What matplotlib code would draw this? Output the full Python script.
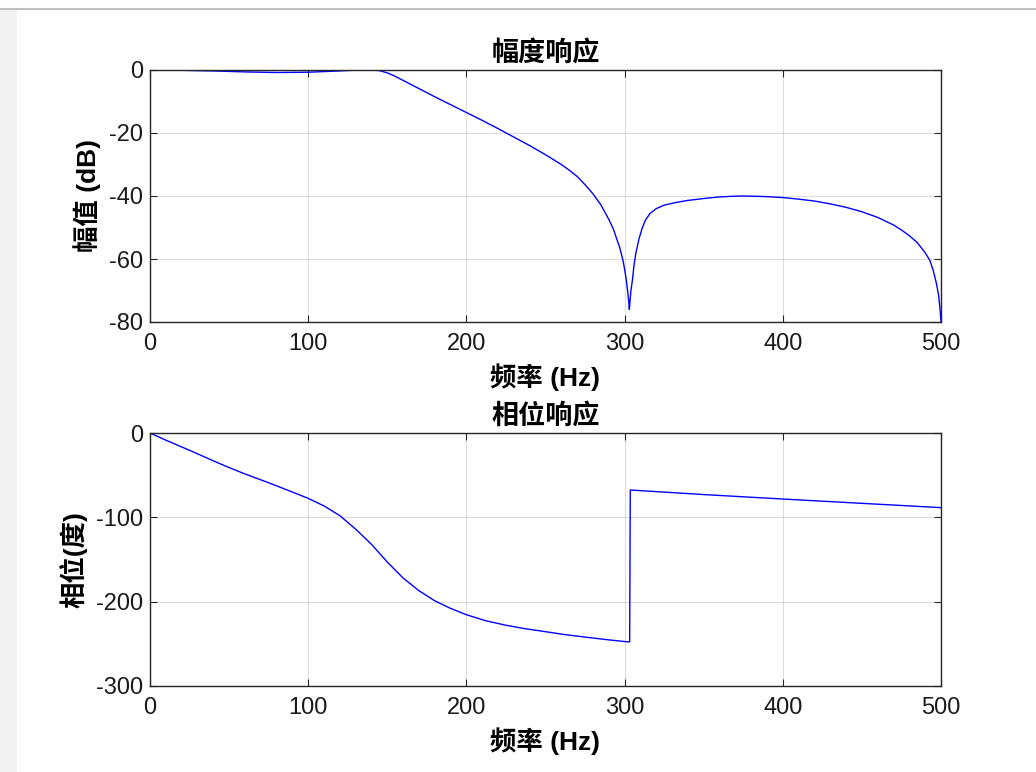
import matplotlib
matplotlib.use("Agg")
import matplotlib.pyplot as plt
from matplotlib.patches import Rectangle
from matplotlib.lines import Line2D

plt.rcParams['font.family'] = ['Liberation Sans', 'Noto Sans CJK SC', 'DejaVu Sans']
plt.rcParams['axes.unicode_minus'] = False

# Magnitude response (dB)
mag_freq = [0, 20, 40, 60, 80, 100, 115, 130, 140, 145, 150, 155, 160, 165, 170, 175, 180,
            190, 200, 210, 220, 230, 240, 250, 260, 265, 270, 275, 280, 285, 290, 293,
            295, 297, 299, 300, 301, 302, 302.6, 303, 303.4, 304, 305, 306, 307, 309,
            311, 313, 316, 320, 325, 333, 340, 350, 360, 370, 375, 380, 390, 400, 410,
            420, 430, 440, 450, 460, 470, 475, 480, 485, 490, 493, 495, 497, 498.5,
            499.5, 500]
mag_db = [0.0, -0.1, -0.3, -0.6, -0.8, -0.7, -0.4, -0.05, 0.0, -0.2, -0.9, -2.0, -3.3,
          -4.6, -5.9, -7.2, -8.5, -11.0, -13.5, -16.0, -18.6, -21.3, -24.0, -26.9, -30.0,
          -31.8, -33.8, -36.4, -39.3, -42.8, -47.4, -50.6, -53.6, -56.5, -60.5, -63.2,
          -66.5, -70.5, -73.5, -76.0, -73.5, -70.0, -66.5, -61.8, -58.5, -53.8, -50.4,
          -47.8, -45.6, -44.0, -42.9, -42.0, -41.4, -40.8, -40.3, -40.05, -40.0, -40.05,
          -40.2, -40.5, -41.0, -41.6, -42.5, -43.6, -45.0, -46.8, -49.2, -50.8, -52.6,
          -54.8, -58.0, -60.5, -63.5, -67.5, -71.5, -76.5, -80.0]

# Phase response (degrees)
ph_freq = [0, 10, 25, 40, 50, 60, 75, 90, 100, 110, 120, 130, 140, 150, 160, 170, 180,
           190, 200, 212, 225, 237, 250, 262, 275, 290, 300, 303.2, 303.6, 350, 400,
           450, 500]
ph_deg = [0, -8.5, -20.5, -33, -41, -48.5, -59, -70, -77.5, -86.5, -98, -114, -132, -153,
          -172, -187, -199, -208, -215.5, -222.5, -228, -232, -235.6, -239, -242, -245.3,
          -247.3, -247.8, -67.6, -73, -78.3, -83.4, -88.5]

fig = plt.figure(figsize=(10.36, 7.72), dpi=100)
fig.patch.set_facecolor('white')
# screenshot frame
fig.add_artist(Rectangle((0, 0), 17 / 1036, 1 - 9 / 772, transform=fig.transFigure,
                         facecolor='#f2f2f2', edgecolor='none', zorder=-5))
fig.add_artist(Line2D([0, 1], [1 - 8.5 / 772, 1 - 8.5 / 772], transform=fig.transFigure,
                      color='#c0c0c0', lw=1.5, zorder=-4))

ax_col = '#262626'
lab_size = 19
tick_size = 17
title_size = 19.5


def style(ax):
    ax.grid(True, color='#262626', alpha=0.15, lw=0.8)
    ax.set_axisbelow(True)
    for s in ax.spines.values():
        s.set_color(ax_col)
        s.set_linewidth(1.0)
    ax.tick_params(direction='in', top=True, right=True, length=5, width=0.8,
                   colors=ax_col, labelsize=tick_size, labelcolor='#1a1a1a')
    ax.tick_params(axis='x', pad=8)
    ax.tick_params(axis='y', pad=5)


ax1 = fig.add_axes([150 / 1036, 1 - 322 / 772, 791 / 1036, 252 / 772])
ax1.plot(mag_freq, mag_db, color='#0000ff', lw=1.0)
ax1.set_xlim(0, 500)
ax1.set_ylim(-80, 0)
ax1.set_xticks([0, 100, 200, 300, 400, 500])
ax1.set_yticks([-80, -60, -40, -20, 0])
style(ax1)
ax1.set_title('幅度响应', fontsize=title_size, fontweight='bold', pad=7)
ax1.set_xlabel('频率 (Hz)', fontsize=lab_size, fontweight='bold', labelpad=6)
ax1.set_ylabel('幅值 (dB)', fontsize=lab_size, fontweight='bold', labelpad=6)

ax2 = fig.add_axes([150 / 1036, 1 - 686 / 772, 791 / 1036, 253 / 772])
ax2.plot(ph_freq, ph_deg, color='#0000ff', lw=1.0)
ax2.set_xlim(0, 500)
ax2.set_ylim(-300, 0)
ax2.set_xticks([0, 100, 200, 300, 400, 500])
ax2.set_yticks([-300, -200, -100, 0])
style(ax2)
ax2.set_title('相位响应', fontsize=title_size, fontweight='bold', pad=7)
ax2.set_xlabel('频率 (Hz)', fontsize=lab_size, fontweight='bold', labelpad=6)
ax2.set_ylabel('相位(度)', fontsize=lab_size, fontweight='bold', labelpad=6)

fig.savefig('out.png', dpi=100)
